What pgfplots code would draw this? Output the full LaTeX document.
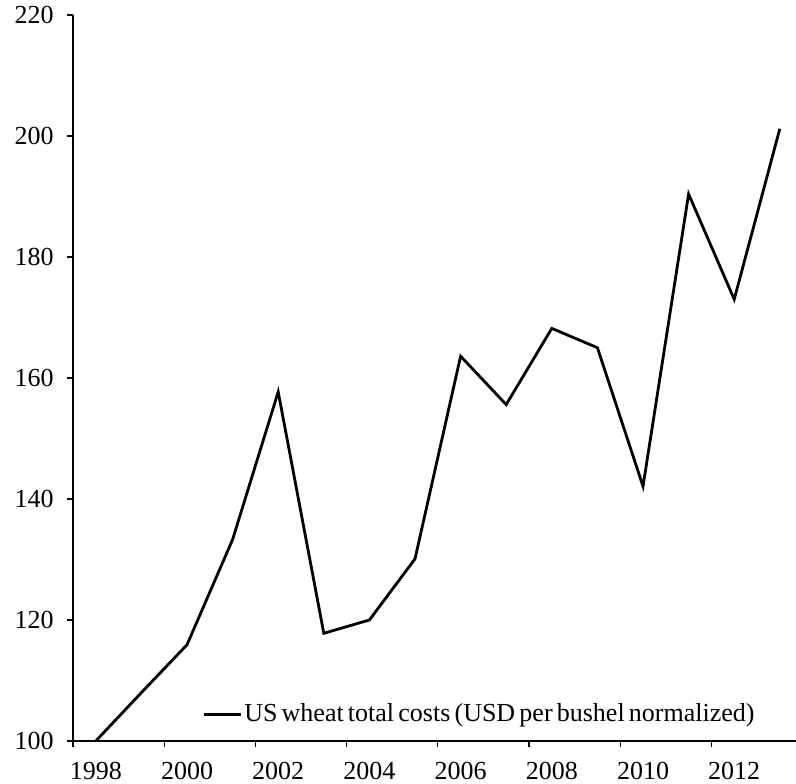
\documentclass[border=0pt]{standalone}
\usepackage{fontspec}
\setmainfont{Liberation Serif}
\usepackage{pgfplots}
\pgfplotsset{compat=1.18}
\newcommand\legtext{{\fontsize{13}{15}\selectfont\spaceskip=2.1pt plus 0.5pt minus 0.3pt\relax US wheat total costs (USD per bushel normalized)}}
\begin{document}
\begin{tikzpicture}
\begin{axis}[
  scale only axis,
  width=361.5pt, height=363pt,
  xmin=1997.5, xmax=2013.355,
  ymin=100, ymax=220,
  axis x line*=bottom, axis y line*=left,
  axis line style={-, line width=0.6pt, black},
  ytick={100,120,...,220},
  xtick={1998,2000,2002,2004,2006,2008,2010,2012},
  xticklabels={1998,2000,2002,2004,2006,2008,2010,2012},
  minor xtick={1997.5,1999.5,2001.5,2003.5,2005.5,2007.5,2009.5,2011.5},
  major x tick style={draw=none},
  minor x tick style={line width=0.6pt, black},
  major y tick style={line width=0.6pt, black},
  tick align=outside,
  major tick length=3pt, minor tick length=3pt,
  /pgf/number format/assume math mode=true,
  /pgf/number format/set thousands separator={},
  tick label style={font=\fontsize{13}{15}\selectfont, black},
  xticklabel style={yshift=-4.2pt},
  yticklabel style={xshift=-3.2pt},
  clip=false,
  legend style={draw=none, fill=none, font=\fontsize{13}{15}\selectfont,
    at={(rel axis cs:0.946,0.019)}, anchor=south east, inner sep=0pt,
    nodes={inner sep=1pt}},
  legend cell align=left,
  legend image code/.code={\draw[#1] (0pt,0pt) -- (18.5pt,0pt);},
]
\addplot[black, line width=1.4pt] coordinates {
(1998,100) (1999,108) (2000,115.9) (2001,133.3) (2002,157.7) (2003,117.8)
(2004,120.0) (2005,130.1) (2006,163.6) (2007,155.6) (2008,168.2) (2009,165.0)
(2010,142.1) (2011,190.4) (2012,173.0) (2013,201.2)
};
\addlegendentry{\legtext}
\coordinate (ll) at (rel axis cs:0,0);
\coordinate (ur) at (rel axis cs:1,1);
\end{axis}
\pgfresetboundingbox
\path ([shift={(-36.5pt,-21.5pt)}]ll) rectangle ([shift={(0pt,7.5pt)}]ur);
\end{tikzpicture}
\end{document}
